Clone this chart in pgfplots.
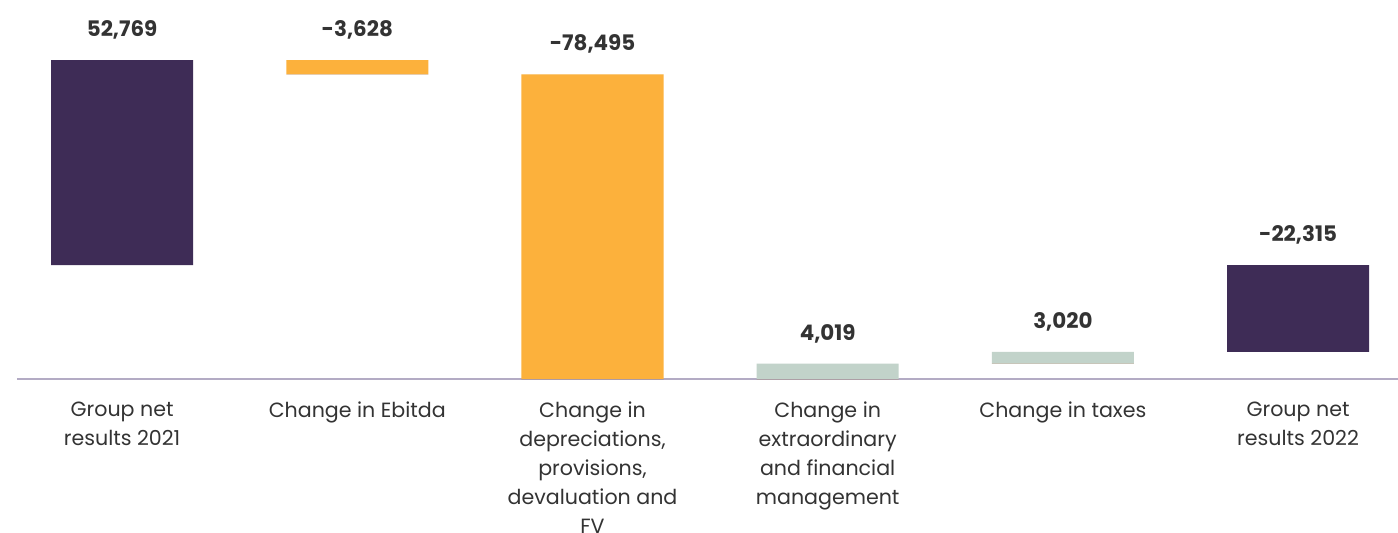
\documentclass[border=0pt]{standalone}
\usepackage{pgfplots}
\pgfplotsset{compat=1.18}
\usepackage{pgfplotstable}
\usepackage{fontspec}
\setmainfont{Poppins}
\definecolor{cpurple}{HTML}{3E2C56}
\definecolor{corange}{HTML}{FCB13C}
\definecolor{cgreen}{HTML}{C2D3CA}
\definecolor{caxis}{HTML}{B3ABC4}
\definecolor{ctext}{HTML}{333333}
\pgfplotstableread{
x base purple orange green zero label
0 0 52769 0 0 0 52,769
1 49141 0 3628 0 0 -3,628
2 -29354 0 78495 0 0 -78,495
3 -29354 0 0 4019 0 4,019
4 -25335 0 0 3020 0 3,020
5 -22315 22315 0 0 0 -22,315
}\data
\begin{document}
\begin{tikzpicture}
\begin{axis}[
  at={(0,0)}, anchor=south west,
  scale only axis, width=690.5pt, height=179.3pt,
  xmin=-0.447, xmax=5.425, ymin=-29354, ymax=63000,
  stack plots=y, stack negative=on previous,
  axis x line*=bottom, axis y line=none,
  x axis line style={draw=caxis, line width=1pt, -},
  major tick length=0pt,
  xtick={0,1,2,3,4,5},
  xticklabels={{Group net\\results 2021},{Change in Ebitda},{Change in\\depreciations,\\provisions,\\devaluation and\\FV},{Change in\\extraordinary\\and financial\\management},{Change in taxes},{Group net\\results 2022}},
  xticklabel style={align=center, font=\fontsize{10.3}{14.5}\selectfont, text=ctext, inner sep=0pt, anchor=north, yshift=-11pt},
  clip=false,
]
\addplot[ybar, bar width=71pt, bar shift=0pt, draw=none, fill=none] table[x=x, y=base] {\data};
\addplot[ybar, bar width=71pt, bar shift=0pt, draw=none, fill=cpurple] table[x=x, y=purple] {\data};
\addplot[ybar, bar width=71pt, bar shift=0pt, draw=none, fill=corange] table[x=x, y=orange] {\data};
\addplot[ybar, bar width=71pt, bar shift=0pt, draw=none, fill=cgreen] table[x=x, y=green] {\data};
\addplot[sharp plot, draw=none, mark=none, point meta=explicit symbolic,
  nodes near coords,
  every node near coord/.append style={anchor=center, yshift=15pt, font=\fontsize{10.7}{13}\selectfont\bfseries, text=ctext}]
  table[x=x, y=zero, meta=label] {\data};
\end{axis}
\pgfresetboundingbox
\useasboundingbox (-8.5pt,-76.5pt) rectangle (690.5pt,189.55pt);
\end{tikzpicture}
\end{document}
